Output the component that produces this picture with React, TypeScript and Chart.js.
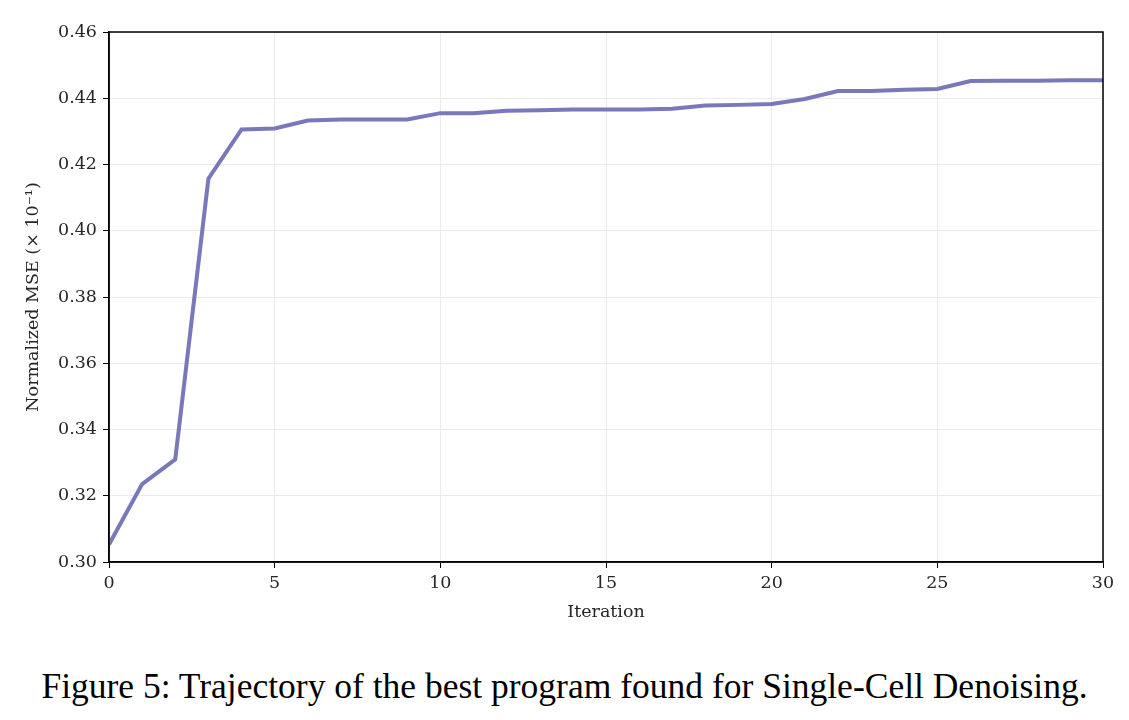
import React, { useEffect, useRef } from "react";
import { Chart, registerables } from "chart.js";

Chart.register(...registerables);

// Best normalized MSE found at each iteration of the search
const iterations: number[] = [
  0, 1, 2, 3, 4, 5, 6, 7, 8, 9, 10, 11, 12, 13, 14, 15,
  16, 17, 18, 19, 20, 21, 22, 23, 24, 25, 26, 27, 28, 29, 30,
];
const bestMse: number[] = [
  0.3053, 0.3235, 0.331, 0.4157, 0.4306, 0.4309, 0.4333, 0.4336, 0.4336, 0.4336,
  0.4355, 0.4355, 0.4362, 0.4364, 0.4366, 0.4366, 0.4366, 0.4368, 0.4378, 0.4380,
  0.4383, 0.4398, 0.4422, 0.4422, 0.4426, 0.4428, 0.4452, 0.4453, 0.4453, 0.4454,
  0.4454,
];
const yTicks = { min: 0.3, max: 0.46, step: 0.02 };
const xTicks = { min: 0, max: 30, step: 5 };

const SERIF = "'DejaVu Serif', serif";

// Draws a full black frame around the plotting area
const framePlugin = {
  id: "frame",
  afterDraw(chart: Chart) {
    const { ctx, chartArea } = chart;
    ctx.save();
    ctx.strokeStyle = "#000";
    ctx.lineWidth = 1.5;
    ctx.strokeRect(
      chartArea.left,
      chartArea.top,
      chartArea.right - chartArea.left,
      chartArea.bottom - chartArea.top
    );
    ctx.restore();
  },
};

export default function App() {
  const canvasRef = useRef<HTMLCanvasElement | null>(null);

  useEffect(() => {
    document.body.style.margin = "0";
    const canvas = canvasRef.current;
    if (!canvas) return;
    const chart = new Chart(canvas, {
      type: "line",
      data: {
        datasets: [
          {
            data: iterations.map((x, i) => ({ x, y: bestMse[i] })),
            borderColor: "#7878bb",
            borderWidth: 4,
            pointRadius: 0,
            tension: 0,
            fill: false,
          },
        ],
      },
      options: {
        animation: false,
        responsive: false,
        maintainAspectRatio: false,
        layout: { padding: { left: 22, top: 32, right: 26, bottom: 0 } },
        plugins: {
          legend: { display: false },
          tooltip: { enabled: false },
        },
        scales: {
          x: {
            type: "linear",
            min: xTicks.min,
            max: xTicks.max,
            afterFit(scale: any) {
              scale.height = 78;
            },
            ticks: {
              stepSize: xTicks.step,
              color: "#262626",
              padding: 5,
              font: { family: SERIF, size: 17.5 },
              maxRotation: 0,
            },
            grid: {
              color: "#ebebeb",
              lineWidth: 1,
              tickColor: "#000",
              tickLength: 6,
            },
            border: { color: "#000", width: 1.5 },
            title: {
              display: true,
              text: "Iteration",
              color: "#262626",
              font: { family: SERIF, size: 17.5 },
              padding: { top: 2, bottom: 17 },
            },
          },
          y: {
            type: "linear",
            min: yTicks.min,
            max: yTicks.max,
            afterFit(scale: any) {
              scale.width = 87;
            },
            ticks: {
              stepSize: yTicks.step,
              color: "#262626",
              padding: 6,
              font: { family: SERIF, size: 17.5 },
              callback: (v: any) => Number(v).toFixed(2),
            },
            grid: {
              color: "#ebebeb",
              lineWidth: 1,
              tickColor: "#000",
              tickLength: 6,
            },
            border: { color: "#000", width: 1.5 },
            title: {
              display: true,
              text: "Normalized MSE (× 10⁻¹)",
              color: "#262626",
              font: { family: SERIF, size: 17.5 },
              padding: { top: 1, bottom: 0 },
            },
          },
        },
      },
      plugins: [framePlugin],
    });
    return () => chart.destroy();
  }, []);

  return (
    <div style={{ position: "relative", width: 1129, height: 720, background: "#fff" }}>
      <canvas
        ref={canvasRef}
        width={1129}
        height={640}
        style={{ display: "block", width: 1129, height: 640 }}
      />
      <div
        style={{
          position: "absolute",
          left: 0,
          top: 664,
          width: 1129,
          textAlign: "center",
          fontFamily: "'Liberation Serif', serif",
          fontSize: 35.5,
          lineHeight: "44px",
          color: "#000",
        }}
      >
        Figure 5: Trajectory of the best program found for Single-Cell Denoising.
      </div>
    </div>
  );
}
